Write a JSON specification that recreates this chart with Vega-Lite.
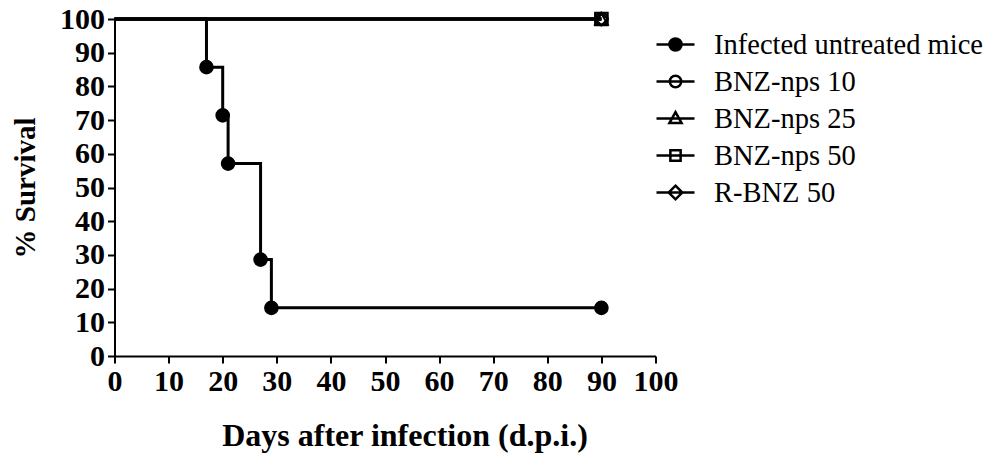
{
  "$schema": "https://vega.github.io/schema/vega-lite/v6.json",
  "autosize": {"type": "none"},
  "width": 541,
  "height": 337,
  "padding": {"left": 114.5, "top": 19, "right": 344.5, "bottom": 99},
  "background": "white",
  "config": {
    "view": {"stroke": null},
    "font": "Liberation Serif",
    "axis": {
      "grid": false,
      "domainColor": "black",
      "domainWidth": 2,
      "tickColor": "black",
      "tickWidth": 2,
      "tickSize": 7,
      "labelFont": "Liberation Serif",
      "labelFontWeight": "bold",
      "labelFontSize": 30,
      "labelColor": "black",
      "labelPadding": 3,
      "labelFlush": false,
      "labelOverlap": false,
      "titleFont": "Liberation Serif",
      "titleFontWeight": "bold",
      "titleColor": "black"
    }
  },
  "data": {
    "values": [
      {"group": "Infected untreated mice", "day": 0, "surv": 100, "mark": false},
      {"group": "Infected untreated mice", "day": 17, "surv": 85.7, "mark": true},
      {"group": "Infected untreated mice", "day": 20, "surv": 71.4, "mark": true},
      {"group": "Infected untreated mice", "day": 21, "surv": 57.1, "mark": true},
      {"group": "Infected untreated mice", "day": 27, "surv": 28.6, "mark": true},
      {"group": "Infected untreated mice", "day": 29, "surv": 14.3, "mark": true},
      {"group": "Infected untreated mice", "day": 90, "surv": 14.3, "mark": true},
      {"group": "BNZ-nps 10", "day": 0, "surv": 100, "mark": false},
      {"group": "BNZ-nps 10", "day": 90, "surv": 100, "mark": true},
      {"group": "BNZ-nps 25", "day": 0, "surv": 100, "mark": false},
      {"group": "BNZ-nps 25", "day": 90, "surv": 100, "mark": true},
      {"group": "BNZ-nps 50", "day": 0, "surv": 100, "mark": false},
      {"group": "BNZ-nps 50", "day": 90, "surv": 100, "mark": true},
      {"group": "R-BNZ 50", "day": 0, "surv": 100, "mark": false},
      {"group": "R-BNZ 50", "day": 90, "surv": 100, "mark": true}
    ]
  },
  "encoding": {
    "x": {
      "field": "day", "type": "quantitative",
      "scale": {"domain": [0, 100], "nice": false},
      "axis": {"values": [0,10,20,30,40,50,60,70,80,90,100], "title": "Days after infection (d.p.i.)", "titleFontSize": 32, "titlePadding": 24, "titleX": 290}
    },
    "y": {
      "field": "surv", "type": "quantitative",
      "scale": {"domain": [0, 100], "nice": false},
      "axis": {"values": [0,10,20,30,40,50,60,70,80,90,100], "title": "% Survival", "titleFontSize": 29, "titlePadding": 19}
    }
  },
  "resolve": {
    "scale": {"shape": "independent", "fill": "independent"},
    "legend": {"shape": "independent", "fill": "independent"}
  },
  "layer": [
    {
      "mark": {"type": "line", "interpolate": "step-after", "color": "black", "strokeWidth": 3},
      "encoding": {"detail": {"field": "group"}}
    },
    {
      "transform": [{"filter": "datum.mark"}],
      "mark": {"type": "point", "filled": false, "stroke": "black", "strokeWidth": 2, "size": 160, "opacity": 1},
      "encoding": {
        "shape": {
          "field": "group", "type": "nominal",
          "scale": {
            "domain": ["Infected untreated mice", "BNZ-nps 10", "BNZ-nps 25", "BNZ-nps 50", "R-BNZ 50"],
            "range": ["circle", "circle", "triangle-up", "square", "diamond"]
          },
          "legend": null
        },
        "fill": {
          "field": "group", "type": "nominal",
          "scale": {
            "domain": ["Infected untreated mice", "BNZ-nps 10", "BNZ-nps 25", "BNZ-nps 50", "R-BNZ 50"],
            "range": ["black", "transparent", "transparent", "transparent", "transparent"]
          },
          "legend": null
        }
      }
    },
    {
      "transform": [{"filter": "false"}],
      "mark": {"type": "point", "filled": false, "stroke": "black", "strokeWidth": 2.5, "opacity": 1},
      "encoding": {
        "shape": {
          "field": "group", "type": "nominal",
          "scale": {
            "domain": ["Infected untreated mice", "BNZ-nps 10", "BNZ-nps 25", "BNZ-nps 50", "R-BNZ 50"],
            "range": [
              "M-1,0H1M0.32,0A0.32,0.32 0 1,1 -0.32,0A0.32,0.32 0 1,1 0.32,0Z",
              "M-1,0H1M0.3,0A0.3,0.3 0 1,1 -0.3,0A0.3,0.3 0 1,1 0.3,0Z",
              "M-1,0H1M0,-0.34L0.32,0.24L-0.32,0.24Z",
              "M-1,0H1M-0.27,-0.27H0.27V0.27H-0.27Z",
              "M-1,0H1M0,-0.36L0.36,0L0,0.36L-0.36,0Z"
            ]
          },
          "legend": {
            "title": null,
            "orient": "none",
            "legendX": 540.5,
            "legendY": 5,
            "padding": 0,
            "symbolSize": 1444,
            "symbolStrokeWidth": 2.5,
            "labelFont": "Liberation Serif",
            "labelFontSize": 28.5,
            "labelColor": "black",
            "labelOffset": 18,
            "rowPadding": 2,
            "labelLimit": 400
          }
        },
        "fill": {
          "field": "group", "type": "nominal",
          "scale": {
            "domain": ["Infected untreated mice", "BNZ-nps 10", "BNZ-nps 25", "BNZ-nps 50", "R-BNZ 50"],
            "range": ["black", "transparent", "transparent", "transparent", "transparent"]
          }
        }
      }
    }
  ]
}
